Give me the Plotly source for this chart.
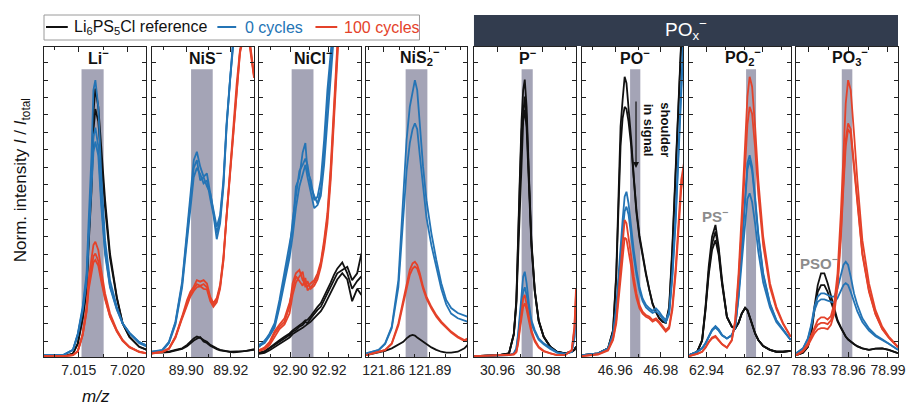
import plotly.graph_objects as go

# ---------------- data (m/z grids and normalized intensities, 0-100 of panel height) ----------------
LI_MZ = [7.0114, 7.0134, 7.0144, 7.0149, 7.0154, 7.0158, 7.0160, 7.0163, 7.0165, 7.0167,
         7.0170, 7.0173, 7.0177, 7.0182, 7.0189, 7.0195, 7.0202, 7.0212, 7.0220]
LI_BLACK = [
    [0.1, 0.1, 1.1, 4.4, 13.0, 22.7, 37.7, 57.1, 78.7, 86.6, 80.7, 66.7, 50.6, 33.4, 19.4, 10.8, 6.5, 3.3, 2.3],
    [0.1, 0.1, 1.1, 4.3, 12.5, 21.5, 35.5, 53.5, 73.0, 80.0, 76.0, 63.0, 48.0, 32.0, 19.0, 10.8, 6.5, 3.3, 2.3],
]
LI_BLUE = [
    [0.6, 0.6, 2.3, 7.6, 16.2, 27.0, 43.1, 64.6, 86.1, 89.3, 80.7, 59.2, 37.7, 24.8, 16.2, 10.9, 7.6, 4.4, 3.3],
    [0.6, 0.6, 2.3, 7.3, 15.5, 25.5, 39.0, 56.0, 71.0, 74.0, 68.0, 51.0, 34.0, 23.0, 15.5, 10.8, 7.8, 4.8, 3.6],
    [0.6, 0.6, 2.2, 7.0, 15.0, 24.0, 37.0, 53.0, 66.0, 69.5, 65.0, 49.0, 33.0, 22.5, 15.3, 10.8, 7.8, 4.8, 3.6],
]
LI_RED = [
    [0.3, 0.3, 0.6, 2.0, 7.6, 16.2, 24.8, 31.3, 36.1, 37.2, 34.5, 28.1, 20.5, 14.1, 8.7, 5.5, 3.3, 1.7, 1.2],
    [0.3, 0.3, 0.6, 1.9, 7.2, 15.0, 22.5, 28.5, 32.5, 33.4, 31.0, 25.5, 19.0, 13.2, 8.4, 5.3, 3.2, 1.7, 1.2],
    [0.3, 0.3, 0.6, 1.8, 7.0, 14.5, 21.5, 27.0, 30.5, 31.3, 29.5, 24.5, 18.5, 13.0, 8.2, 5.2, 3.1, 1.6, 1.1],
]

NIS_MZ = [89.8846, 89.8893, 89.8923, 89.8952, 89.8982, 89.9004, 89.9019, 89.9034, 89.9048, 89.9063,
          89.9078, 89.9093, 89.9108, 89.9122, 89.9137, 89.9152, 89.9167, 89.9181, 89.9196, 89.9211,
          89.9226, 89.9241, 89.9256, 89.9270, 89.9285, 89.9304]
NIS_BLACK = [
    [1.7, 1.7, 1.7, 2.3, 2.8, 3.9, 4.9, 6.0, 6.6, 6.2, 5.5, 4.9, 3.9, 3.3, 2.8, 2.3, 2.0, 1.9, 1.7, 1.7, 1.7, 1.8, 1.9, 2.0, 2.3, 2.5],
    [1.5, 1.4, 1.6, 2.0, 2.6, 3.5, 4.5, 5.3, 5.9, 6.4, 5.0, 4.5, 3.6, 3.0, 2.5, 2.1, 1.9, 1.7, 1.6, 1.5, 1.6, 1.7, 1.8, 1.9, 2.1, 2.3],
]
NIS_BLUE = [
    [1.7, 2.3, 4.9, 11.4, 24.3, 41.0, 51.7, 63.5, 66.2, 61.4, 58.2, 59.2, 52.8, 47.4, 42.0, 45.8, 57.1, 75.4, 90.4, 105, 120, 130, 135, 135, 135, 135],
    [1.5, 2.0, 4.5, 10.5, 22.5, 38.0, 47.0, 58.0, 61.0, 59.0, 56.0, 57.0, 51.0, 46.0, 38.0, 43.0, 55.0, 74.0, 89.0, 104, 118, 130, 135, 135, 135, 135],
    [1.6, 2.1, 4.7, 11.0, 23.5, 39.5, 49.5, 61.0, 63.5, 57.0, 58.0, 55.0, 53.0, 47.0, 40.0, 44.5, 56.0, 74.5, 90.0, 105, 119, 130, 135, 135, 135, 135],
]
NIS_RED = [
    [1.2, 1.7, 2.8, 6.6, 13.1, 18.4, 21.1, 22.7, 24.8, 24.3, 24.8, 23.7, 19.4, 17.4, 19.0, 23.3, 32.4, 46.3, 60.3, 74.3, 88.0, 99.0, 104, 106, 102, 91.0],
    [1.1, 1.6, 2.6, 6.2, 12.4, 17.0, 19.5, 21.3, 22.5, 22.8, 22.0, 21.8, 18.0, 16.2, 17.6, 22.0, 31.0, 45.0, 59.0, 73.0, 87.0, 98.0, 103, 104, 100, 90.0],
    [1.2, 1.6, 2.7, 6.4, 12.8, 17.6, 20.2, 22.0, 23.5, 23.0, 23.5, 22.5, 18.8, 16.8, 18.3, 22.6, 31.6, 45.6, 59.6, 73.6, 87.5, 98.5, 103.5, 105, 101, 90.5],
]

NICL_MZ = [92.8838, 92.8867, 92.8893, 92.8919, 92.8944, 92.8970, 92.8996, 92.9012, 92.9029, 92.9047,
           92.9064, 92.9078, 92.9089, 92.9106, 92.9124, 92.9141, 92.9158, 92.9175, 92.9192, 92.9209,
           92.9226, 92.9243, 92.9269, 92.9295, 92.9320, 92.9346, 92.9368]
NICL_BLACK = [
    [1.2, 1.7, 2.8, 3.9, 4.9, 6.0, 7.1, 8.2, 8.7, 9.8, 10.3, 11.4, 10.9, 12.5, 14.1, 15.2, 16.2, 18.4, 20.5, 22.7, 24.8, 27.0, 28.1, 29.1, 24.8, 27.0, 33.4],
    [1.0, 1.3, 2.2, 3.2, 4.4, 5.2, 6.3, 7.4, 8.2, 8.8, 9.4, 10.2, 10.6, 11.4, 12.6, 13.8, 14.8, 16.5, 18.6, 20.8, 23.0, 25.0, 27.0, 25.0, 18.0, 22.0, 20.0],
    [1.4, 1.9, 3.0, 4.3, 5.4, 6.5, 7.6, 8.6, 9.3, 10.2, 11.0, 11.8, 12.0, 13.2, 14.8, 16.2, 17.4, 19.5, 21.8, 24.0, 26.5, 28.5, 30.5, 27.0, 22.0, 24.5, 26.0],
]
NICL_BLUE = [
    [3.9, 4.9, 7.6, 10.9, 18.4, 27.0, 35.6, 42.0, 54.9, 58.0, 66.0, 69.0, 60.0, 57.0, 50.6, 51.7, 57.1, 70.0, 86.1, 99.0, 113, 130, 140, 140, 140, 140, 140],
    [3.5, 4.5, 6.8, 9.5, 16.0, 24.0, 32.0, 39.0, 48.0, 55.0, 59.0, 62.0, 58.0, 53.0, 48.0, 49.0, 52.0, 62.0, 77.0, 92.0, 106, 120, 140, 140, 140, 140, 140],
    [3.2, 5.2, 7.2, 10.2, 17.0, 25.5, 34.0, 44.0, 51.0, 60.0, 62.0, 64.0, 62.0, 55.0, 52.0, 49.5, 54.0, 66.0, 82.0, 96.0, 110, 125, 140, 140, 140, 140, 140],
]
NICL_RED = [
    [2.3, 2.8, 4.4, 7.6, 9.8, 11.4, 16.2, 23.8, 27.0, 28.1, 24.8, 23.8, 22.7, 23.8, 24.8, 27.0, 30.7, 37.7, 46.3, 61.4, 80.7, 100, 130, 130, 130, 130, 130],
    [1.9, 2.5, 3.8, 6.5, 9.0, 10.5, 14.0, 20.0, 24.0, 26.0, 27.5, 22.5, 24.5, 22.0, 23.0, 25.0, 29.0, 35.0, 43.0, 57.0, 76.0, 96.0, 125, 130, 130, 130, 130],
    [2.1, 3.1, 4.9, 8.3, 10.5, 12.5, 17.5, 22.0, 26.0, 24.5, 23.0, 25.5, 21.5, 22.5, 24.0, 26.0, 30.0, 36.5, 45.0, 59.0, 78.5, 98.0, 128, 130, 130, 130, 130],
]

NIS2_MZ = [121.8488, 121.8568, 121.8610, 121.8653, 121.8696, 121.8728, 121.8749, 121.8770, 121.8788, 121.8803,
           121.8818, 121.8835, 121.8856, 121.8878, 121.8910, 121.8942, 121.8974, 121.9006, 121.9038, 121.9081,
           121.9124, 121.9145]
NIS2_BLACK = [
    [0.6, 1.4, 2.0, 2.8, 3.9, 4.9, 6.0, 6.8, 7.1, 6.9, 6.3, 5.7, 4.9, 4.2, 3.1, 2.3, 1.7, 1.4, 1.4, 1.7, 2.8, 3.9],
]
NIS2_BLUE = [
    [1.2, 2.3, 4.4, 9.8, 24.8, 50.6, 70.0, 80.7, 86.1, 89.3, 86.1, 75.4, 61.4, 50.6, 39.9, 31.3, 23.8, 18.4, 15.8, 14.2, 13.4, 13.0],
    [1.2, 2.2, 4.2, 9.3, 22.5, 44.0, 60.0, 69.0, 73.5, 75.4, 73.5, 65.0, 54.0, 45.0, 36.0, 28.5, 22.0, 17.0, 14.0, 12.5, 11.8, 11.4],
]
NIS2_RED = [
    [0.6, 1.7, 2.3, 4.4, 10.9, 18.4, 23.8, 28.1, 30.2, 30.7, 29.7, 27.0, 22.7, 19.5, 16.2, 13.5, 11.4, 9.8, 8.2, 6.6, 5.5, 6.0],
    [0.6, 1.6, 2.2, 4.2, 10.2, 17.3, 22.5, 26.5, 28.5, 29.2, 28.5, 26.0, 22.0, 18.8, 15.6, 13.0, 11.0, 9.4, 7.9, 6.3, 5.2, 5.7],
]

P_MZ = [30.9498, 30.9607, 30.9651, 30.9672, 30.9683, 30.9691, 30.9698, 30.9706, 30.9713, 30.9720,
        30.9728, 30.9738, 30.9749, 30.9764, 30.9781, 30.9803, 30.9832, 30.9861, 30.9897, 30.9926,
        30.9938, 30.9945]
P_BLACK = [
    [0.3, 0.6, 1.2, 7.6, 18.4, 35.6, 57.1, 76.4, 86.1, 89.5, 80.7, 59.2, 37.7, 21.6, 11.9, 6.6, 3.3, 1.7, 1.2, 1.7, 2.3, 3.3],
    [0.3, 0.6, 1.2, 7.2, 17.0, 33.0, 52.0, 68.0, 76.0, 79.7, 74.0, 56.0, 36.0, 21.0, 11.5, 6.5, 3.3, 1.7, 1.2, 1.7, 2.3, 3.3],
    [0.3, 0.6, 1.2, 7.4, 17.8, 34.5, 55.0, 73.0, 80.0, 84.0, 77.0, 57.5, 37.0, 21.3, 11.7, 6.5, 3.3, 1.7, 1.2, 1.7, 2.3, 3.3],
]
P_BLUE = [
    [0.3, 0.5, 0.6, 1.2, 2.8, 7.6, 14.1, 20.5, 25.9, 27.5, 23.8, 17.3, 11.9, 8.7, 6.0, 4.4, 2.8, 1.5, 1.0, 1.7, 6.6, 16.2],
    [0.3, 0.5, 0.6, 1.1, 2.6, 6.8, 12.5, 17.5, 21.0, 22.5, 20.0, 15.0, 10.8, 8.0, 5.6, 4.1, 2.6, 1.4, 1.0, 1.6, 6.0, 15.0],
]
P_RED = [
    [0.3, 0.5, 0.6, 0.9, 1.7, 4.9, 9.8, 15.2, 18.9, 20.0, 17.3, 13.0, 8.7, 5.5, 3.3, 2.0, 1.2, 0.6, 0.6, 2.3, 9.8, 22.1],
    [0.3, 0.5, 0.6, 0.8, 1.5, 4.3, 8.6, 13.2, 16.2, 17.3, 15.3, 11.6, 7.9, 5.0, 3.0, 1.8, 1.1, 0.6, 0.6, 2.1, 9.0, 20.5],
]

PO_MZ = [46.9452, 46.9524, 46.9568, 46.9590, 46.9604, 46.9614, 46.9623, 46.9632, 46.9641, 46.9649,
         46.9658, 46.9670, 46.9681, 46.9693, 46.9706, 46.9720, 46.9735, 46.9750, 46.9764, 46.9779,
         46.9793, 46.9808, 46.9822, 46.9837, 46.9851, 46.9866, 46.9880, 46.9890, 46.9902]
PO_BLACK = [
    [0.6, 1.2, 2.8, 8.7, 27.0, 56.0, 74.3, 82.9, 90.4, 88.3, 80.7, 70.0, 58.2, 47.4, 39.3, 32.9, 27.0, 21.6, 17.3, 14.6, 12.5, 11.4, 11.1, 16.2, 35.6, 61.4, 89.3, 102, 113],
    [0.6, 1.2, 2.8, 8.5, 26.0, 52.0, 68.0, 77.0, 80.7, 80.0, 76.0, 68.0, 57.0, 46.5, 38.5, 32.0, 26.5, 21.5, 17.0, 14.5, 12.5, 11.4, 11.0, 15.5, 34.0, 60.0, 88.0, 101, 112],
]
PO_BLUE = [
    [0.6, 1.2, 2.8, 7.6, 16.2, 27.0, 35.6, 44.2, 51.7, 53.3, 49.6, 41.0, 34.5, 28.1, 22.7, 18.9, 16.8, 15.7, 14.9, 15.7, 14.6, 13.0, 11.9, 14.6, 27.0, 46.3, 70.0, 89.3, 107.6],
    [0.6, 1.1, 2.6, 7.0, 15.0, 25.0, 33.0, 40.5, 47.0, 48.5, 46.0, 38.5, 32.5, 26.5, 21.5, 18.0, 16.0, 15.0, 14.2, 14.8, 13.8, 12.3, 11.2, 13.8, 25.5, 44.0, 67.5, 87.0, 105],
]
PO_RED = [
    [0.3, 0.9, 2.3, 6.0, 11.9, 20.5, 29.1, 37.7, 44.2, 43.1, 38.8, 32.4, 25.9, 20.5, 16.8, 14.6, 13.5, 13.0, 11.9, 12.5, 11.4, 9.8, 8.7, 9.8, 16.2, 29.1, 46.3, 57.1, 62.5],
    [0.3, 0.8, 2.1, 5.5, 10.8, 18.5, 26.0, 33.5, 38.5, 38.0, 34.5, 29.0, 23.5, 19.0, 15.8, 14.0, 13.0, 12.4, 11.4, 12.0, 10.9, 9.3, 8.2, 9.2, 15.0, 27.0, 43.0, 54.0, 60.0],
]

PO2_MZ = [62.9306, 62.9350, 62.9376, 62.9394, 62.9411, 62.9429, 62.9447, 62.9464, 62.9482, 62.9508,
          62.9534, 62.9552, 62.9570, 62.9587, 62.9605, 62.9617, 62.9629, 62.9642, 62.9658, 62.9675,
          62.9701, 62.9737, 62.9771, 62.9807, 62.9847]
PO2_BLACK = [
    [0.6, 1.7, 5.5, 16.2, 29.1, 38.8, 42.6, 35.6, 24.8, 13.0, 9.8, 9.2, 11.1, 14.1, 15.9, 15.2, 13.0, 10.3, 7.6, 5.5, 3.5, 2.3, 1.7, 1.7, 2.0],
    [0.6, 1.7, 5.2, 15.0, 26.5, 34.5, 37.7, 33.0, 23.5, 12.8, 9.8, 9.2, 11.0, 14.0, 15.8, 15.0, 13.0, 10.3, 7.6, 5.5, 3.5, 2.3, 1.7, 1.7, 2.0],
    [0.6, 1.7, 5.3, 15.5, 27.5, 36.5, 40.5, 34.5, 24.0, 12.9, 9.8, 9.2, 11.0, 14.0, 15.8, 15.1, 13.0, 10.3, 7.6, 5.5, 3.5, 2.3, 1.7, 1.7, 2.0],
]
PO2_BLUE = [
    [0.6, 1.7, 2.8, 4.4, 6.6, 8.9, 10.0, 8.9, 7.1, 6.0, 7.1, 9.8, 20.5, 35.6, 52.8, 62.5, 65.1, 61.4, 51.7, 39.9, 27.0, 17.3, 11.9, 8.7, 5.5],
    [0.6, 1.7, 2.8, 4.4, 6.4, 8.5, 9.5, 8.5, 7.0, 6.0, 7.0, 9.6, 19.0, 31.0, 44.0, 51.0, 52.8, 50.0, 43.0, 34.0, 24.0, 16.0, 11.3, 8.5, 5.5],
    [0.6, 1.7, 2.8, 4.3, 6.5, 8.7, 9.8, 8.7, 7.0, 6.0, 7.0, 9.7, 20.0, 34.5, 51.0, 60.5, 63.5, 60.0, 50.5, 39.0, 26.5, 17.0, 11.8, 8.7, 5.6],
]
PO2_RED = [
    [0.3, 1.0, 1.7, 3.1, 4.9, 6.3, 6.8, 5.7, 4.2, 3.1, 5.5, 11.9, 27.0, 46.3, 70.0, 84.0, 90.4, 87.2, 74.3, 57.1, 38.8, 23.8, 16.2, 10.9, 6.6],
    [0.3, 1.0, 1.7, 3.0, 4.7, 6.0, 6.5, 5.5, 4.1, 3.0, 5.3, 11.3, 25.0, 42.0, 63.0, 75.0, 80.7, 78.5, 67.5, 52.5, 36.0, 22.5, 15.5, 10.6, 6.5],
]

PO3_MZ = [78.9205, 78.9256, 78.9293, 78.9318, 78.9343, 78.9368, 78.9393, 78.9418, 78.9443, 78.9468,
          78.9493, 78.9518, 78.9543, 78.9563, 78.9580, 78.9598, 78.9618, 78.9643, 78.9668, 78.9706,
          78.9756, 78.9805, 78.9856, 78.9906, 78.9976]
PO3_BLACK = [
    [0.6, 1.4, 3.3, 7.6, 16.2, 23.2, 27.0, 27.0, 23.8, 19.5, 15.2, 11.9, 9.6, 7.8, 6.6, 5.7, 4.9, 4.2, 3.5, 2.8, 2.3, 2.7, 2.8, 2.3, 1.2],
    [0.6, 1.4, 3.2, 7.2, 15.0, 21.0, 23.2, 23.2, 21.0, 18.0, 14.5, 11.5, 9.4, 7.7, 6.5, 5.6, 4.8, 4.1, 3.4, 2.8, 2.3, 2.7, 2.8, 2.3, 1.2],
]
PO3_BLUE = [
    [1.2, 2.8, 6.0, 10.3, 16.2, 19.5, 20.5, 20.5, 20.0, 19.5, 19.5, 22.1, 26.4, 29.7, 30.7, 29.7, 25.9, 20.5, 16.8, 12.5, 9.2, 7.1, 5.7, 4.4, 2.3],
    [1.2, 2.7, 5.7, 9.7, 15.0, 17.8, 18.6, 18.6, 18.2, 17.8, 17.5, 19.0, 21.5, 23.2, 23.8, 23.2, 21.0, 17.5, 14.7, 11.3, 8.5, 6.7, 5.5, 4.3, 2.3],
]
PO3_RED = [
    [0.6, 2.0, 4.4, 7.1, 9.8, 11.9, 12.8, 12.8, 12.1, 13.2, 17.3, 27.0, 46.3, 66.8, 81.8, 89.3, 86.1, 72.1, 57.1, 37.7, 23.8, 15.2, 9.8, 6.6, 3.3],
    [0.6, 1.9, 4.0, 6.3, 8.7, 10.4, 11.0, 11.0, 10.6, 11.8, 15.5, 24.0, 40.0, 57.0, 70.0, 75.4, 73.5, 62.0, 50.0, 33.5, 21.5, 14.0, 9.2, 6.3, 3.2],
    [0.6, 1.8, 3.6, 5.6, 7.6, 8.9, 9.3, 9.3, 9.0, 10.4, 14.0, 22.5, 38.0, 55.0, 68.0, 73.5, 72.0, 61.0, 49.0, 33.0, 21.0, 13.8, 9.0, 6.2, 3.1],
]

# panel labels, integration windows (m/z), axis ranges and tick labels
LABELS = ["Li<sup>−</sup>", "NiS<sup>−</sup>", "NiCl<sup>−</sup>", "NiS<sub>2</sub><sup>−</sup>",
          "P<sup>−</sup>", "PO<sup>−</sup>", "PO<sub>2</sub><sup>−</sup>", "PO<sub>3</sub><sup>−</sup>"]
BANDS = [(7.01528, 7.01755), (89.9022, 89.9119), (92.9007, 92.9120), (121.8743, 121.8884),
         (30.9706, 30.9755), (46.9665, 46.9710), (62.9610, 62.9663), (78.9550, 78.9630)]
XRANGES = [(7.01143, 7.0219), (89.8847, 89.9304), (92.8838, 92.9366), (121.8486, 121.9141),
           (30.9497, 30.9945), (46.9453, 46.9898), (62.9306, 62.9849), (78.9203, 78.9976)]
TICKVALS = [[7.015, 7.020], [89.90, 89.92], [92.90, 92.92], [121.86, 121.89],
            [30.96, 30.98], [46.96, 46.98], [62.94, 62.97], [78.93, 78.96, 78.99]]
TICKTEXT = [["7.015", "7.020"], ["89.90", "89.92"], ["92.90", "92.92"], ["121.86", "121.89"],
            ["30.96", "30.98"], ["46.96", "46.98"], ["62.94", "62.97"], ["78.93", "78.96", "78.99"]]
MINORVALS = [[7.0125, 7.0175, 7.0225], [89.89, 89.91, 89.93], [92.89, 92.91, 92.93],
             [121.85, 121.87, 121.88, 121.90, 121.91], [30.95, 30.97, 30.99], [46.95, 46.97],
             [62.95, 62.96, 62.98], [78.945, 78.975]]

PANELS = [
    (LI_MZ, LI_BLACK, LI_BLUE, LI_RED),
    (NIS_MZ, NIS_BLACK, NIS_BLUE, NIS_RED),
    (NICL_MZ, NICL_BLACK, NICL_BLUE, NICL_RED),
    (NIS2_MZ, NIS2_BLACK, NIS2_BLUE, NIS2_RED),
    (P_MZ, P_BLACK, P_BLUE, P_RED),
    (PO_MZ, PO_BLACK, PO_BLUE, PO_RED),
    (PO2_MZ, PO2_BLACK, PO2_BLUE, PO2_RED),
    (PO3_MZ, PO3_BLACK, PO3_BLUE, PO3_RED),
]

# ---------------- styling ----------------
W, H = 915, 405
ML, MR, MT, MB = 44, 9, 47, 48
PW = W - ML - MR
PH = H - MT - MB
PIX_DOMAINS = [(44, 147), (153, 256), (261, 364), (369, 471),
               (478, 581), (587, 689), (695, 798), (803, 906)]
BLACK, BLUE, RED = "#111111", "#2474b5", "#e4422a"
BAND_COLOR = "#a4a4b6"
HEADER_COLOR = "#323c4e"
AXCOL = "#222222"
FONT = "Liberation Sans, Arial, sans-serif"


def px(x):
    return (x - ML) / PW


def py(y):
    return (H - MB - y) / PH


fig = go.Figure()
layout = dict(
    width=W, height=H,
    margin=dict(l=ML, r=MR, t=MT, b=MB, pad=0),
    paper_bgcolor="white", plot_bgcolor="white",
    showlegend=False,
    font=dict(family=FONT, size=14, color=AXCOL),
)
shapes = []
annotations = []

ytick_major = [5.16 + 5.61 * k for k in range(17)]

for i, (mz, blacks, blues, reds) in enumerate(PANELS):
    n = i + 1
    xa = "x" if n == 1 else f"x{n}"
    ya = "y" if n == 1 else f"y{n}"
    for group, col in ((blacks, BLACK), (blues, BLUE), (reds, RED)):
        for ys in group:
            fig.add_trace(go.Scatter(x=mz, y=ys, mode="lines", xaxis=xa, yaxis=ya,
                                     line=dict(color=col, width=1.8), hoverinfo="skip"))
    d0, d1 = PIX_DOMAINS[i]
    layout["xaxis" if n == 1 else f"xaxis{n}"] = dict(
        domain=[px(d0), px(d1)], range=list(XRANGES[i]), anchor=ya,
        showgrid=False, zeroline=False, showline=True, linecolor=AXCOL, linewidth=1.3,
        mirror="ticks", ticks="inside", ticklen=5, tickwidth=1, tickcolor=AXCOL,
        tickmode="array", tickvals=TICKVALS[i], ticktext=TICKTEXT[i],
        tickfont=dict(size=14, color=AXCOL, family=FONT),
        minor=dict(tickmode="array", tickvals=MINORVALS[i], ticks="inside", ticklen=3,
                   tickcolor=AXCOL, showgrid=False),
    )
    layout["yaxis" if n == 1 else f"yaxis{n}"] = dict(
        domain=[0, 1], range=[0, 100], anchor=xa,
        showgrid=False, zeroline=False, showline=True, linecolor=AXCOL, linewidth=1.3,
        mirror="ticks", ticks="inside", ticklen=4, tickwidth=1, tickcolor=AXCOL,
        tickmode="array", tickvals=ytick_major, showticklabels=False,
    )
    b0, b1 = BANDS[i]
    shapes.append(dict(type="rect", xref=xa, yref=ya, x0=b0, x1=b1, y0=0, y1=92.8,
                       fillcolor=BAND_COLOR, line=dict(width=0), layer="below"))
    annotations.append(dict(text=f"<b>{LABELS[i]}</b>", xref="paper", yref="paper",
                            x=px((d0 + d1) / 2), y=py(57), xshift=3, showarrow=False,
                            xanchor="center", yanchor="middle",
                            font=dict(size=16, color="#111", family=FONT)))

# PO_x header bar
shapes.append(dict(type="rect", xref="paper", yref="paper", x0=px(478), x1=px(906),
                   y0=py(46), y1=py(15), fillcolor=HEADER_COLOR, line=dict(width=0)))
annotations.append(dict(text="PO<sub>x</sub><sup>−</sup>", xref="paper", yref="paper",
                        x=px(692), y=py(30), showarrow=False, xanchor="center", yanchor="middle",
                        font=dict(size=19, color="white", family=FONT)))

# manual legend
shapes.append(dict(type="rect", xref="paper", yref="paper", x0=px(44), x1=px(423),
                   y0=py(40), y1=py(15), fillcolor="white", line=dict(color="#9a9a9a", width=1)))
for (lx0, lx1, tx, txt, col) in [(46, 68, 72, "Li<sub>6</sub>PS<sub>5</sub>Cl reference", BLACK),
                                 (219, 238, 245, "0 cycles", BLUE),
                                 (318, 340, 345, "100 cycles", RED)]:
    shapes.append(dict(type="line", xref="paper", yref="paper", x0=px(lx0), x1=px(lx1),
                       y0=py(27), y1=py(27), line=dict(color=col, width=2)))
    annotations.append(dict(text=txt, xref="paper", yref="paper", x=px(tx), y=py(27),
                            xanchor="left", yanchor="middle", showarrow=False,
                            font=dict(size=16, color=col if col != BLACK else "#111", family=FONT)))

# axis titles
annotations.append(dict(text="Norm. intensity <i>I</i> / <i>I</i><sub>total</sub>", xref="paper",
                        yref="paper", x=px(22), y=py(180), textangle=-90, showarrow=False,
                        xanchor="center", yanchor="middle",
                        font=dict(size=17, color="#111", family=FONT)))
annotations.append(dict(text="<i>m/z</i>", xref="paper", yref="paper", x=px(96), y=py(396),
                        showarrow=False, xanchor="center", yanchor="middle",
                        font=dict(size=17, color="#111", family=FONT)))

# PO- shoulder arrow and text
annotations.append(dict(text="", xref="x6", yref="y6", x=46.9691, y=61.0,
                        axref="x6", ayref="y6", ax=46.9691, ay=82.9, showarrow=True,
                        arrowhead=2, arrowsize=1, arrowwidth=1.2, arrowcolor="#111"))
annotations.append(dict(text="<b>in signal</b>", xref="x6", yref="y6", x=46.9750, y=73.2,
                        textangle=90, showarrow=False, font=dict(size=13, color="#111", family=FONT)))
annotations.append(dict(text="<b>shoulder</b>", xref="x6", yref="y6", x=46.9822, y=73.2,
                        textangle=90, showarrow=False, font=dict(size=13, color="#111", family=FONT)))

# side-product labels
annotations.append(dict(text="<b>PS<sup>−</sup></b>", xref="x7", yref="y7", x=62.9443, y=45.8,
                        showarrow=False, font=dict(size=15, color="#8c8c8c", family=FONT)))
annotations.append(dict(text="<b>PSO<sup>−</sup></b>", xref="x8", yref="y8", x=78.9380, y=30.6,
                        showarrow=False, font=dict(size=15, color="#8c8c8c", family=FONT)))

layout["shapes"] = shapes
layout["annotations"] = annotations
fig.update_layout(**layout)
fig.write_html("out.html")
